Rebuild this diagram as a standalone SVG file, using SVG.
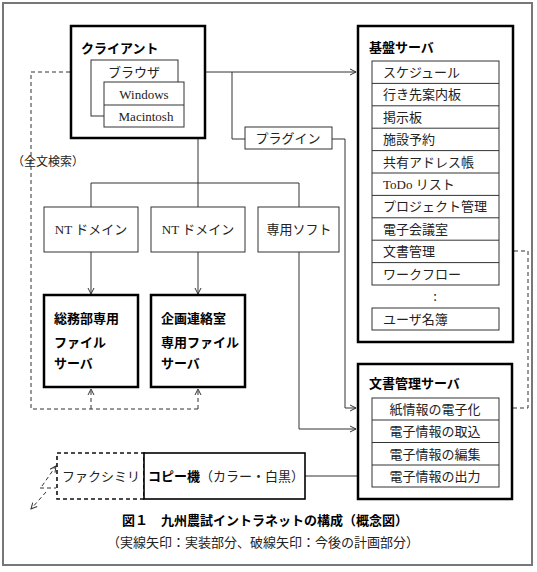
<svg xmlns="http://www.w3.org/2000/svg" width="537" height="572" viewBox="0 0 537 572">
<style>
text{font-family:"Noto Sans CJK JP","Noto Sans",sans-serif;font-size:13px;fill:#222}
.lat{font-family:"Liberation Serif","Noto Sans CJK JP",serif}
.b{font-weight:bold;fill:#000}
.m{text-anchor:middle}
.thin{fill:#fff;stroke:#333;stroke-width:1}
.thick{fill:#fff;stroke:#000;stroke-width:2.5}
.ln{fill:none;stroke:#333;stroke-width:1}
.dash{fill:none;stroke:#333;stroke-width:1;stroke-dasharray:4 3}
.dbox{fill:#fff;stroke:#111;stroke-width:1.6;stroke-dasharray:4 3}
</style>
<defs>
<marker id="ar" markerWidth="8" markerHeight="8" refX="7" refY="4" orient="auto" markerUnits="userSpaceOnUse">
<path d="M1,1 L7,4 L1,7" fill="none" stroke="#333" stroke-width="1"/>
</marker>
</defs>
<rect x="0" y="0" width="537" height="572" fill="#fff"/>
<rect x="3" y="3" width="529" height="562" fill="none" stroke="#777" stroke-width="2"/>

<g id="connectors">
<path class="ln" d="M178,72 H356" marker-end="url(#ar)"/>
<path class="ln" d="M232,72 V139 H245"/>
<path class="ln" d="M332,139 H345 V408 H356" marker-end="url(#ar)"/>
<path class="ln" d="M184,94 H198 V207"/>
<path class="ln" d="M91,207 V183 H299 V207"/>
<path class="ln" d="M91,252 V294" marker-end="url(#ar)"/>
<path class="ln" d="M198,252 V294" marker-end="url(#ar)"/>
<path class="ln" d="M299,252 V429 H356" marker-end="url(#ar)"/>
<path class="ln" d="M305,476 H366 V410 L371,407" marker-end="url(#ar)"/>
<path class="dash" d="M91,72 H31 V409 H198"/>
<path class="dash" d="M91,409 V389" marker-end="url(#ar)"/>
<path class="dash" d="M198,409 V389" marker-end="url(#ar)"/>
<path class="dash" d="M513,408 H528 V251 H501" marker-end="url(#ar)"/>
<path class="dash" d="M42,486 L56,466" marker-end="url(#ar)"/>
<path class="dash" d="M40,488 H56"/>
<path class="dash" d="M46,492 L31,509" marker-end="url(#ar)"/>
</g>

<g id="client">
<rect class="thick" x="71" y="26" width="134" height="112"/>
<text class="b" x="81" y="53">クライアント</text>
</g>
<g id="browser">
<rect class="thin" x="91" y="60" width="87" height="56"/>
<text class="m" x="134" y="77">ブラウザ</text>
</g>
<g id="os">
<rect class="thin" x="104" y="82" width="80" height="45"/>
<line class="ln" x1="104" y1="105" x2="184" y2="105"/>
<text class="lat m" x="144" y="99">Windows</text>
<text class="lat m" x="146" y="121">Macintosh</text>
</g>
<g id="plugin">
<rect class="thin" x="245" y="127" width="87" height="22"/>
<text class="m" x="288" y="143">プラグイン</text>
</g>
<text x="12" y="166" font-size="12" style="font-size:12px">（全文検索）</text>

<g id="nt1">
<rect class="thin" x="44" y="207" width="94" height="45"/>
<text class="lat m" x="91" y="234">NT ドメイン</text>
</g>
<g id="nt2">
<rect class="thin" x="151" y="207" width="94" height="45"/>
<text class="lat m" x="198" y="234">NT ドメイン</text>
</g>
<g id="soft">
<rect class="thin" x="258" y="207" width="81" height="45"/>
<text class="m" x="299" y="234">専用ソフト</text>
</g>
<g id="fs1">
<rect class="thick" x="44" y="295" width="94" height="92"/>
<text class="b" x="54" y="323">総務部専用</text>
<text class="b" x="54" y="347">ファイル</text>
<text class="b" x="54" y="368">サーバ</text>
</g>
<g id="fs2">
<rect class="thick" x="151" y="295" width="94" height="92"/>
<text class="b" x="161" y="323">企画連絡室</text>
<text class="b" x="161" y="347">専用ファイル</text>
<text class="b" x="161" y="368">サーバ</text>
</g>

<g id="base-server">
<rect class="thick" x="358" y="26" width="155" height="316"/>
<text class="b" x="369" y="52">基盤サーバ</text>
<rect class="thin" x="372" y="61" width="127" height="224"/>
<path class="ln" d="M372,83.4H499M372,105.8H499M372,128.2H499M372,150.6H499M372,173H499M372,195.4H499M372,217.8H499M372,240.2H499M372,262.6H499"/>
<text x="383" y="77">スケジュール</text>
<text x="383" y="99.4">行き先案内板</text>
<text x="383" y="121.8">掲示板</text>
<text x="383" y="144.2">施設予約</text>
<text x="383" y="166.6">共有アドレス帳</text>
<text class="lat" x="383" y="189">ToDo リスト</text>
<text x="383" y="211.4">プロジェクト管理</text>
<text x="383" y="233.8">電子会議室</text>
<text x="383" y="256.2">文書管理</text>
<text x="383" y="278.6">ワークフロー</text>
<text class="m" x="435" y="301">:</text>
<rect class="thin" x="372" y="308" width="127" height="22"/>
<text x="383" y="324">ユーザ名簿</text>
</g>

<g id="doc-server">
<rect class="thick" x="358" y="364" width="154" height="135"/>
<text class="b" x="369" y="388">文書管理サーバ</text>
<rect class="thin" x="372" y="398" width="127" height="89"/>
<path class="ln" d="M372,420H499M372,442.5H499M372,465H499"/>
<text class="m" x="435" y="414">紙情報の電子化</text>
<text class="m" x="435" y="436">電子情報の取込</text>
<text class="m" x="435" y="458.5">電子情報の編集</text>
<text class="m" x="435" y="481">電子情報の出力</text>
</g>

<g id="fax">
<rect class="dbox" x="57" y="453" width="87" height="46"/>
<text x="62" y="481">ファクシミリ</text>
</g>
<g id="copier">
<rect x="144" y="453" width="161" height="46" fill="#fff" stroke="#000" stroke-width="1.6"/>
<text x="148" y="481"><tspan class="b">コピー機</tspan>（カラー・白黒）</text>
</g>

<g id="caption">
<text class="b m" x="265" y="525">図１　九州農試イントラネットの構成（概念図）</text>
<text class="m" x="263" y="547">（実線矢印：実装部分、破線矢印：今後の計画部分）</text>
</g>
</svg>
